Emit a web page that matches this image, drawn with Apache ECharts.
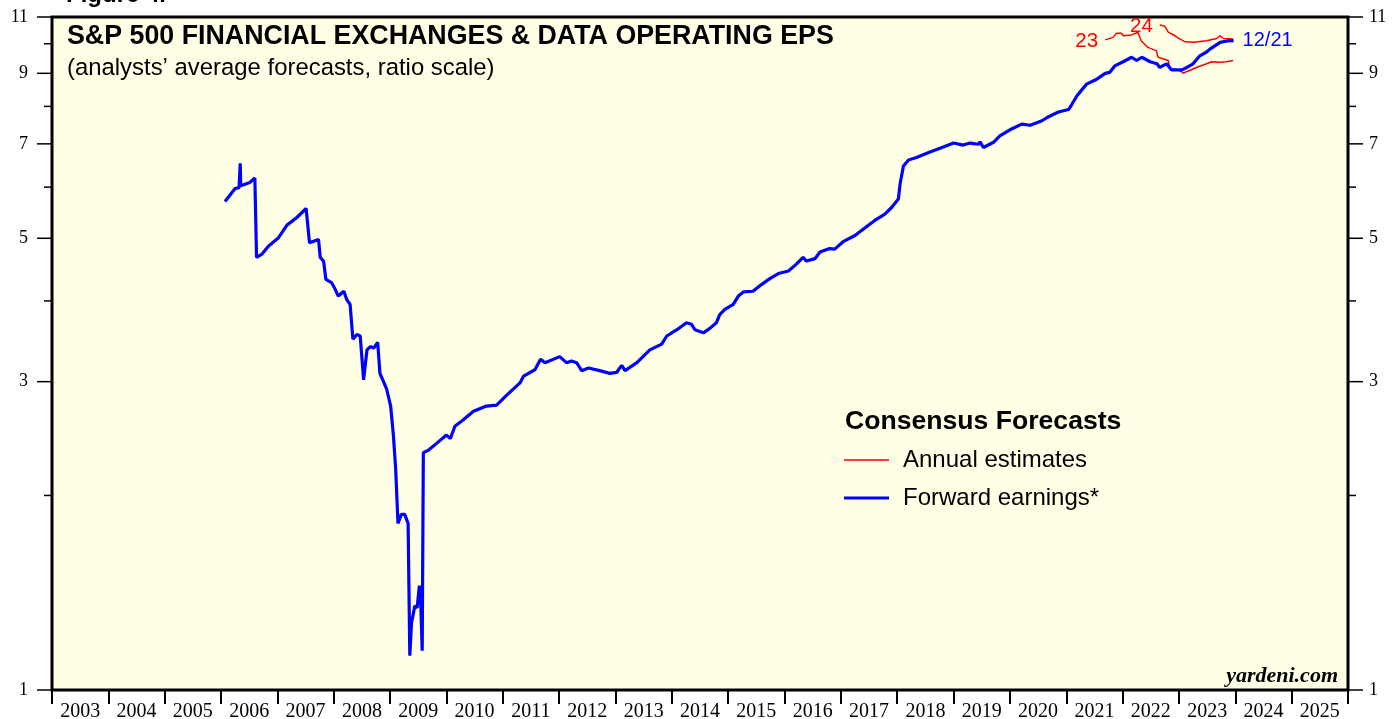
<!DOCTYPE html>
<html><head><meta charset="utf-8">
<script src="https://cdn.jsdelivr.net/npm/echarts@6/dist/echarts.min.js"></script>
<style>html,body{margin:0;padding:0;background:#fff}#c{width:1393px;height:719px}</style>
</head><body><div id="c"></div>
<script>
// ---- data ----
const yearLabels = ['2003','2004','2005','2006','2007','2008','2009','2010','2011','2012','2013','2014','2015','2016','2017','2018','2019','2020','2021','2022','2023','2024','2025'];
const yMajorTicks = [1, 3, 5, 7, 9, 11];
const yMinorTicks = [2, 4, 6, 8, 10];

const fwdDates = [2006.07,2006.25,2006.32,2006.34,2006.35,2006.51,2006.60,2006.63,2006.72,2006.84,2007.02,2007.17,2007.34,2007.51,2007.57,2007.73,2007.76,2007.82,2007.86,2007.96,2008.02,2008.08,2008.18,2008.23,2008.29,2008.34,2008.41,2008.47,2008.53,2008.59,2008.65,2008.71,2008.78,2008.82,2008.94,2009.01,2009.06,2009.10,2009.14,2009.20,2009.26,2009.32,2009.35,2009.38,2009.44,2009.48,2009.52,2009.54,2009.57,2009.59,2009.68,2009.83,2010.00,2010.07,2010.15,2010.30,2010.48,2010.71,2010.89,2011.07,2011.31,2011.37,2011.57,2011.67,2011.75,2012.01,2012.13,2012.22,2012.31,2012.40,2012.52,2012.72,2012.90,2013.02,2013.11,2013.17,2013.38,2013.61,2013.82,2013.91,2014.09,2014.26,2014.35,2014.41,2014.56,2014.68,2014.79,2014.85,2014.94,2015.09,2015.18,2015.27,2015.44,2015.59,2015.74,2015.89,2016.07,2016.21,2016.33,2016.39,2016.54,2016.63,2016.80,2016.89,2017.04,2017.25,2017.43,2017.63,2017.78,2017.90,2018.02,2018.05,2018.11,2018.20,2018.34,2018.58,2018.76,2019.00,2019.17,2019.29,2019.44,2019.47,2019.53,2019.71,2019.82,2020.00,2020.21,2020.36,2020.57,2020.66,2020.86,2021.04,2021.10,2021.19,2021.36,2021.54,2021.69,2021.77,2021.86,2022.01,2022.16,2022.25,2022.34,2022.49,2022.61,2022.66,2022.78,2022.87,2023.05,2023.14,2023.25,2023.37,2023.49,2023.55,2023.73,2023.85,2023.97];
const fwdValues = [5.70,5.97,5.99,6.53,6.03,6.10,6.20,4.67,4.72,4.86,5.01,5.24,5.38,5.56,4.92,4.98,4.67,4.61,4.32,4.27,4.18,4.07,4.14,4.02,3.95,3.49,3.55,3.53,3.02,3.36,3.40,3.38,3.45,3.09,2.92,2.75,2.47,2.19,1.81,1.87,1.87,1.81,1.13,1.27,1.35,1.34,1.45,1.40,1.15,2.33,2.35,2.41,2.48,2.45,2.56,2.62,2.70,2.75,2.76,2.86,2.99,3.06,3.13,3.25,3.21,3.28,3.21,3.23,3.21,3.12,3.15,3.12,3.09,3.10,3.18,3.12,3.21,3.36,3.43,3.53,3.61,3.70,3.68,3.61,3.57,3.63,3.70,3.81,3.88,3.95,4.07,4.13,4.14,4.24,4.33,4.41,4.45,4.56,4.67,4.61,4.65,4.76,4.82,4.81,4.94,5.05,5.19,5.35,5.45,5.58,5.75,6.06,6.47,6.61,6.67,6.80,6.89,7.02,6.97,7.02,6.99,7.05,6.91,7.04,7.20,7.36,7.51,7.48,7.60,7.69,7.84,7.91,8.06,8.31,8.66,8.81,9.00,9.03,9.24,9.38,9.53,9.42,9.53,9.38,9.31,9.19,9.31,9.11,9.11,9.19,9.31,9.58,9.71,9.81,10.05,10.10,10.11];

const est23Dates = [2021.69,2021.83,2021.89,2021.98,2022.01,2022.16,2022.27,2022.33,2022.45,2022.60,2022.63,2022.81,2022.84,2022.99,2023.08,2023.31,2023.49,2023.58,2023.73,2023.85,2023.96];
const est23Values = [10.14,10.23,10.38,10.38,10.29,10.32,10.42,10.11,9.87,9.75,9.53,9.42,9.14,9.11,9.01,9.19,9.31,9.38,9.36,9.38,9.42];

const est24Dates = [2022.66,2022.75,2022.81,2022.93,2022.99,2023.11,2023.26,2023.49,2023.67,2023.73,2023.79,2023.96];
const est24Values = [10.69,10.64,10.42,10.29,10.20,10.07,10.05,10.11,10.19,10.29,10.19,10.17];

// ---- chart ----
const pairs = (d, v) => d.map((x, i) => [x, v[i]]);
const chart = echarts.init(document.getElementById('c'), null, {renderer: 'canvas'});
const SANS = '"Liberation Sans", Arial, sans-serif';
const SERIF = '"Liberation Serif", "Times New Roman", serif';

const option = {
  animation: false,
  backgroundColor: '#ffffff',
  grid: {left: 52, right: 45, top: 17, bottom: 29, show: true, backgroundColor: '#FFFFE6',
         borderColor: '#000', borderWidth: 3, containLabel: false, outerBoundsMode: 'none'},
  xAxis: [
    {type: 'category', data: yearLabels, boundaryGap: true, position: 'bottom',
     axisLine: {show: false},
     axisTick: {show: true, length: 14, interval: 0, lineStyle: {color: '#000', width: 2}},
     axisLabel: {interval: 0, fontFamily: SERIF, fontSize: 20, color: '#000', margin: 12},
     splitLine: {show: false}},
    {type: 'value', min: 2003, max: 2026, show: false, splitLine: {show: false}}
  ],
  yAxis: [
    {type: 'log', logBase: 10, min: 1, max: 11, axisLine: {show: false}, axisTick: {show: false},
     axisLabel: {show: false}, splitLine: {show: false}}
  ],
  series: [
    {name: '2023 estimate', type: 'line', xAxisIndex: 1, yAxisIndex: 0, data: pairs(est23Dates, est23Values),
     showSymbol: false, lineStyle: {color: '#FF0000', width: 1.5}, z: 3},
    {name: '2024 estimate', type: 'line', xAxisIndex: 1, yAxisIndex: 0, data: pairs(est24Dates, est24Values),
     showSymbol: false, lineStyle: {color: '#FF0000', width: 1.5}, z: 3},
    {name: 'Forward earnings', type: 'line', xAxisIndex: 1, yAxisIndex: 0, data: pairs(fwdDates, fwdValues),
     showSymbol: false, lineStyle: {color: '#0000FF', width: 3.2}, z: 4}
  ]
};
chart.setOption(option);

const L = 52, R = 1348;
const yPix = v => chart.convertToPixel({yAxisIndex: 0}, v);
const pt = (s, x, y) => chart.convertToPixel({seriesIndex: s}, [x, y]);
const g = [];
yMajorTicks.forEach(v => {
  const y = yPix(v);
  g.push({type: 'line', shape: {x1: L - 15, y1: y, x2: L, y2: y}, style: {stroke: '#000', lineWidth: 1.5}, z: 10});
  g.push({type: 'line', shape: {x1: R, y1: y, x2: R + 15, y2: y}, style: {stroke: '#000', lineWidth: 1.5}, z: 10});
  g.push({type: 'text', x: 28, y: y, style: {text: String(v), fontFamily: SERIF, fontSize: 18, fill: '#000', align: 'right', verticalAlign: 'middle'}});
  g.push({type: 'text', x: 1369, y: y, style: {text: String(v), fontFamily: SERIF, fontSize: 18, fill: '#000', align: 'left', verticalAlign: 'middle'}});
});
yMinorTicks.forEach(v => {
  const y = yPix(v);
  g.push({type: 'line', shape: {x1: L - 8, y1: y, x2: L, y2: y}, style: {stroke: '#000', lineWidth: 1.5}, z: 10});
  g.push({type: 'line', shape: {x1: R, y1: y, x2: R + 8, y2: y}, style: {stroke: '#000', lineWidth: 1.5}, z: 10});
});

// titles
g.push({type: 'text', x: 66, y: -5, style: {text: 'Figure 4.', fontFamily: SANS, fontWeight: 'bold', fontSize: 24, fill: '#000', align: 'left', verticalAlign: 'middle'}});
g.push({type: 'text', x: 67, y: 37, style: {text: 'S&P 500 FINANCIAL EXCHANGES & DATA OPERATING EPS', fontFamily: SANS, fontWeight: 'bold', fontSize: 26.8, fill: '#000', align: 'left', verticalAlign: 'middle'}, z: 20});
g.push({type: 'text', x: 67, y: 68, style: {text: '(analysts\u2019 average forecasts, ratio scale)', fontFamily: SANS, fontSize: 23.9, fill: '#000', align: 'left', verticalAlign: 'middle'}, z: 20});

// series labels
const p23 = pt(0, est23Dates[0], est23Values[0]);
g.push({type: 'text', x: p23[0] - 7, y: p23[1] + 1, style: {text: '23', fontFamily: SANS, fontSize: 20.5, fill: '#FF0000', align: 'right', verticalAlign: 'middle'}, z: 20});
const p24 = pt(1, est24Dates[0], est24Values[0]);
g.push({type: 'text', x: p24[0] - 7, y: p24[1] + 1, style: {text: '24', fontFamily: SANS, fontSize: 20.5, fill: '#FF0000', align: 'right', verticalAlign: 'middle'}, z: 20});
const pE = pt(2, fwdDates[fwdDates.length - 1], fwdValues[fwdValues.length - 1]);
g.push({type: 'text', x: pE[0] + 9, y: pE[1], style: {text: '12/21', fontFamily: SANS, fontSize: 20, fill: '#0000FF', align: 'left', verticalAlign: 'middle'}, z: 20});

// legend
g.push({type: 'text', x: 845, y: 422, style: {text: 'Consensus Forecasts', fontFamily: SANS, fontWeight: 'bold', fontSize: 26.6, fill: '#000', align: 'left', verticalAlign: 'middle'}, z: 20});
g.push({type: 'line', shape: {x1: 844, y1: 460, x2: 889, y2: 460}, style: {stroke: '#FF0000', lineWidth: 1.5}, z: 20});
g.push({type: 'text', x: 903, y: 460, style: {text: 'Annual estimates', fontFamily: SANS, fontSize: 24, fill: '#000', align: 'left', verticalAlign: 'middle'}, z: 20});
g.push({type: 'line', shape: {x1: 844, y1: 498, x2: 889, y2: 498}, style: {stroke: '#0000FF', lineWidth: 3}, z: 20});
g.push({type: 'text', x: 903, y: 498, style: {text: 'Forward earnings*', fontFamily: SANS, fontSize: 24, fill: '#000', align: 'left', verticalAlign: 'middle'}, z: 20});

// source
g.push({type: 'text', x: 1338, y: 676, style: {text: 'yardeni.com', fontFamily: SERIF, fontWeight: 'bold', fontStyle: 'italic', fontSize: 22, fill: '#000', align: 'right', verticalAlign: 'middle'}, z: 20});

chart.setOption({graphic: g});
</script>
</body></html>
